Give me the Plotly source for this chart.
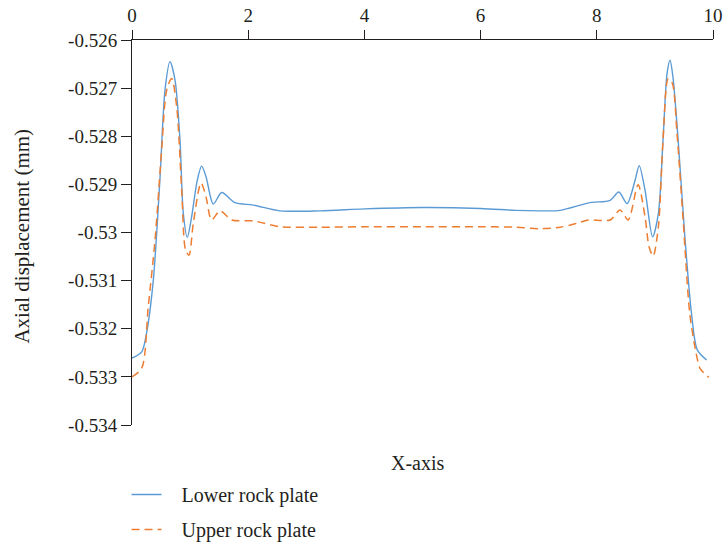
import plotly.graph_objects as go

# Lower rock plate (blue, solid)
lower_x = [0.0, 0.167, 0.25, 0.367, 0.48, 0.568, 0.654, 0.74, 0.826, 0.883, 0.952, 1.027, 1.124, 1.199,
           1.274, 1.4, 1.544, 1.773, 2.09, 2.55, 3.24, 4.0, 5.0, 6.0, 6.6, 7.02, 7.37, 7.88, 8.23, 8.38,
           8.52, 8.66, 8.73, 8.83, 8.96, 9.06, 9.14, 9.21, 9.26, 9.31, 9.40, 9.52, 9.63, 9.73, 9.89]
lower_y = [-0.53261, -0.53248, -0.53209, -0.53099, -0.52891, -0.52704, -0.52645, -0.52683, -0.52808,
           -0.52960, -0.53010, -0.52967, -0.52891, -0.52862, -0.52884, -0.52941, -0.52917, -0.52938,
           -0.52943, -0.52955, -0.52955, -0.52951, -0.52948, -0.52950, -0.52954, -0.52955, -0.52954,
           -0.52938, -0.52933, -0.52916, -0.52940, -0.52891, -0.52861, -0.52912, -0.53009, -0.52960,
           -0.52808, -0.52669, -0.52642, -0.52676, -0.52808, -0.53016, -0.53168, -0.53244, -0.53265]

# Upper rock plate (orange, dashed)
upper_x = [0.0, 0.167, 0.28, 0.396, 0.51, 0.597, 0.683, 0.769, 0.855, 0.923, 0.981, 1.055, 1.188, 1.274,
           1.37, 1.515, 1.716, 2.09, 2.55, 3.24, 4.0, 5.0, 6.0, 6.6, 7.02, 7.37, 7.65, 7.85, 8.23, 8.4,
           8.54, 8.71, 8.83, 8.9, 8.97, 9.06, 9.14, 9.23, 9.30, 9.38, 9.49, 9.60, 9.71, 9.78, 9.93]
upper_y = [-0.53300, -0.53282, -0.53154, -0.53016, -0.52829, -0.52704, -0.52680, -0.52739, -0.52912,
           -0.53037, -0.53047, -0.52981, -0.52897, -0.52926, -0.52974, -0.52955, -0.52974, -0.52976,
           -0.52988, -0.52989, -0.52988, -0.52988, -0.52988, -0.52989, -0.52992, -0.52989, -0.52981,
           -0.52974, -0.52974, -0.52953, -0.52974, -0.52901, -0.52967, -0.53030, -0.53049, -0.52988,
           -0.52808, -0.52680, -0.52690, -0.52794, -0.52981, -0.53168, -0.53251, -0.53283, -0.53301]

x_ticks = [0, 2, 4, 6, 8, 10]
y_ticks = [-0.526, -0.527, -0.528, -0.529, -0.53, -0.531, -0.532, -0.533, -0.534]
y_tick_text = ["-0.526", "-0.527", "-0.528", "-0.529", "-0.53", "-0.531", "-0.532", "-0.533", "-0.534"]

FONT = "Liberation Serif"
INK = "#231f20"
PAD = "\u00a0\u00a0\u00a0"

fig = go.Figure()
fig.add_trace(go.Scatter(x=lower_x, y=lower_y, mode="lines", name=PAD + "Lower rock plate",
                         line=dict(color="#5B9BD5", width=1.4, shape="spline", smoothing=0.8),
                         legendgroup="a"))
fig.add_trace(go.Scatter(x=upper_x, y=upper_y, mode="lines", name=PAD + "Upper rock plate",
                         line=dict(color="#ED7D31", width=1.5, dash="8px,5px", shape="spline", smoothing=0.8),
                         legendgroup="b"))

fig.update_layout(
    width=723, height=546,
    margin=dict(l=132, r=10, t=40, b=121, autoexpand=False),
    paper_bgcolor="white", plot_bgcolor="white",
    font=dict(family=FONT, size=19, color=INK),
    showlegend=True,
    legend=dict(xref="container", yref="container", x=0.175, xanchor="left",
                y=1 - 475 / 546, yanchor="top", orientation="v",
                tracegroupgap=6, font=dict(size=20), bgcolor="rgba(0,0,0,0)"),
    xaxis=dict(range=[0, 10], side="top", tickvals=x_ticks, ticks="outside", ticklen=9,
               tickcolor=INK, showline=True, linecolor=INK, linewidth=1,
               showgrid=False, zeroline=False, automargin=False),
    yaxis=dict(range=[-0.534, -0.526], tickvals=y_ticks, ticktext=y_tick_text, ticks="outside",
               ticklen=10, tickcolor=INK, showline=True, linecolor=INK, linewidth=1,
               showgrid=False, zeroline=False, automargin=False),
    annotations=[
        dict(text="X-axis", xref="paper", yref="paper", x=0.493, y=-0.099,
             xanchor="center", yanchor="middle", showarrow=False, font=dict(size=20)),
        dict(text="Axial displacement (mm)", xref="paper", yref="paper", x=-0.189, y=0.49,
             xanchor="center", yanchor="middle", textangle=-90, showarrow=False, font=dict(size=21)),
    ],
)

fig.write_html("out.html")
